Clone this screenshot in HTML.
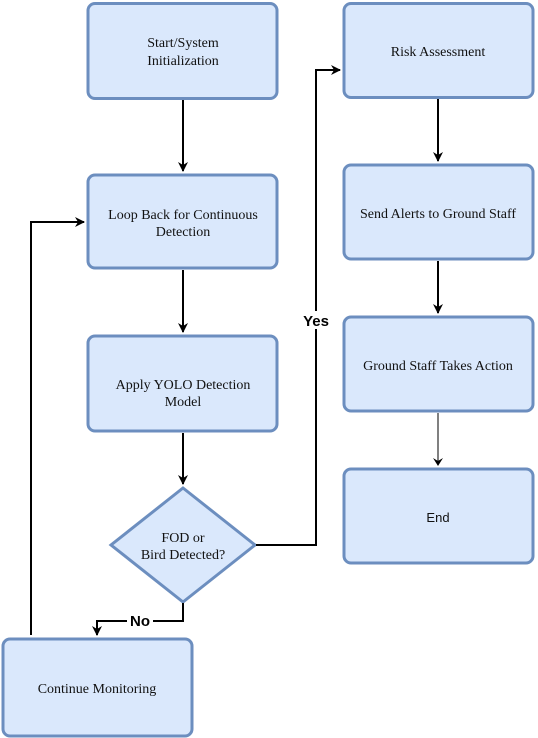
<!DOCTYPE html>
<html><head><meta charset="utf-8"><style>
html,body{margin:0;padding:0;background:#fff;width:538px;height:738px;overflow:hidden}
svg{display:block}
.b{fill:#dae8fc;stroke:#6c8ebf;stroke-width:3}
.l{stroke:#000;stroke-width:2;fill:none}
</style></head><body>
<svg width="538" height="738" viewBox="0 0 538 738">
<defs><marker id="a" markerWidth="12" markerHeight="12" refX="9" refY="6" orient="auto" markerUnits="userSpaceOnUse"><path d="M0,1 L10,6 L0,11 L3,6z" fill="#000"/></marker></defs>
<rect class="b" x="88" y="3.5" width="189" height="95" rx="7"/>
<rect class="b" x="88" y="175" width="189" height="93" rx="7"/>
<rect class="b" x="88" y="336" width="189" height="95" rx="7"/>
<path class="b" d="M183,488 L255,545 L183,602 L111,545z"/>
<rect class="b" x="3" y="639" width="189" height="97" rx="7"/>
<rect class="b" x="344" y="3.5" width="189" height="94" rx="7"/>
<rect class="b" x="344" y="165" width="189" height="94" rx="7"/>
<rect class="b" x="344" y="317" width="189" height="94" rx="7"/>
<rect class="b" x="344" y="469" width="189" height="94" rx="7"/>
<g font-family="Liberation Serif, DejaVu Serif, serif" font-size="14" fill="#111" text-anchor="middle">
<text x="183" y="47">Start/System</text><text x="183" y="65">Initialization</text>
<text x="183" y="219">Loop Back for Continuous</text><text x="183" y="236">Detection</text>
<text x="183" y="389">Apply YOLO Detection</text><text x="183" y="406">Model</text>
<text x="183" y="542">FOD or</text><text x="183" y="559">Bird Detected?</text>
<text x="97" y="693">Continue Monitoring</text>
<text x="438" y="56">Risk Assessment</text>
<text x="438" y="218">Send Alerts to Ground Staff</text>
<text x="438" y="370">Ground Staff Takes Action</text>
</g>
<text x="438" y="522" font-family="Liberation Sans, sans-serif" font-size="13" fill="#111" text-anchor="middle">End</text>
<line class="l" x1="183" y1="100" x2="183" y2="171" marker-end="url(#a)"/>
<line class="l" x1="183" y1="270" x2="183" y2="332" marker-end="url(#a)"/>
<line class="l" x1="183" y1="433" x2="183" y2="484" marker-end="url(#a)"/>
<line class="l" x1="438" y1="99" x2="438" y2="161" marker-end="url(#a)"/>
<line class="l" x1="438" y1="261" x2="438" y2="313" marker-end="url(#a)"/>
<line class="l" x1="438" y1="413" x2="438" y2="465" style="stroke-width:1"/>
<path d="M433,458 L438,466 L443,458 L438,461z" fill="#000"/>
<path class="l" d="M31,635 L31,222 L84,222" marker-end="url(#a)"/>
<path class="l" d="M256,545 L316,545 L316,70 L340,70" marker-end="url(#a)"/>
<path class="l" d="M183,603 L183,621 L97,621 L97,635" marker-end="url(#a)"/>
<rect x="127" y="612" width="26" height="17" fill="#fff"/>
<text x="140" y="626" font-family="Liberation Sans, sans-serif" font-size="15" font-weight="bold" text-anchor="middle">No</text>
<rect x="300" y="311" width="32" height="18" fill="#fff"/>
<text x="316" y="326" font-family="Liberation Sans, sans-serif" font-size="15" font-weight="bold" text-anchor="middle">Yes</text>
</svg>
</body></html>
